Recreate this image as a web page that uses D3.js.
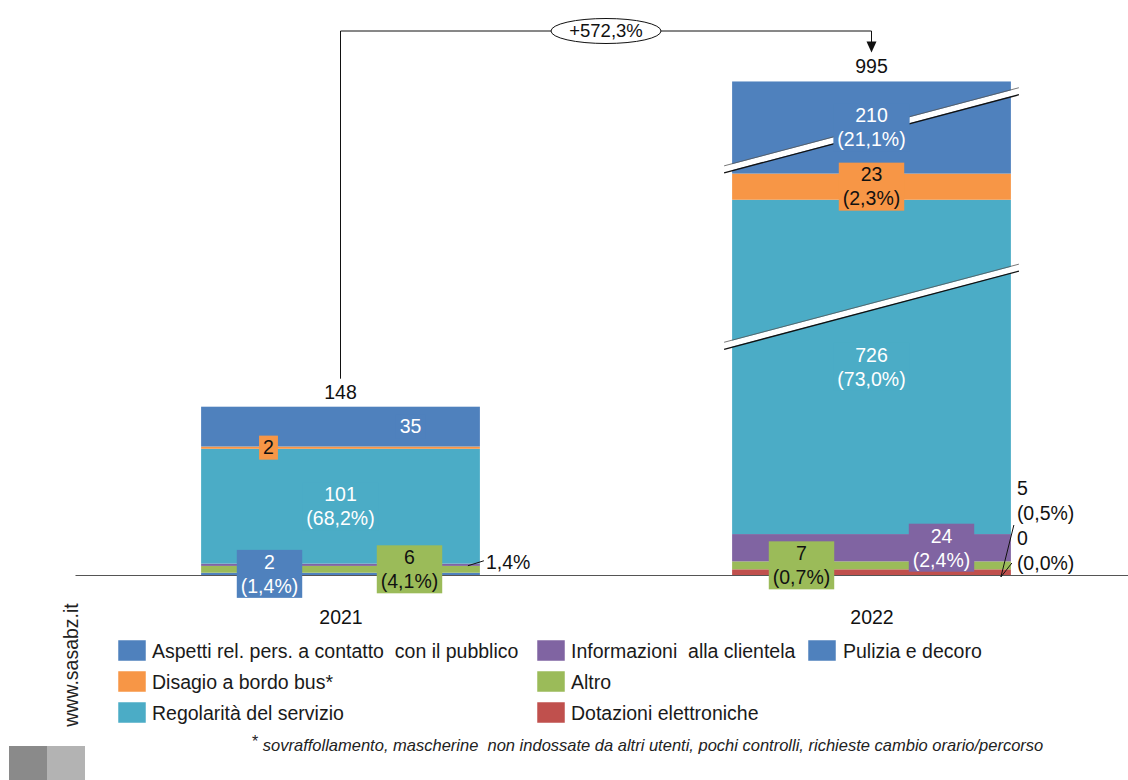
<!DOCTYPE html>
<html>
<head>
<meta charset="utf-8">
<script src="https://cdn.jsdelivr.net/npm/d3@7"></script>
<style>
  html, body { margin: 0; padding: 0; background: #fff; }
  svg { display: block; font-family: "Liberation Sans", Arial, sans-serif; }
</style>
</head>
<body>
<svg id="chart" width="1128" height="780"></svg>
<script>
// Complaint categories, listed in stacking order (bottom to top)
const categories = [
  "Pulizia e decoro",
  "Dotazioni elettroniche",
  "Altro",
  "Informazioni  alla clientela",
  "Regolarità del servizio",
  "Disagio a bordo bus*",
  "Aspetti rel. pers. a contatto  con il pubblico"
];
const years = ["2021", "2022"];
const values2021 = [2, 0, 6, 2, 101, 2, 35];
const values2022 = [0, 5, 7, 24, 726, 23, 210];
// amount removed from a segment by the broken value axis
const breakCut2021 = [0, 0, 0, 0, 0, 0, 0];
const breakCut2022 = [0, 0, 0, 0, 432, 0, 129];
const colors = ["#4F81BD", "#C0504D", "#9BBB59", "#8064A2", "#4BACC6", "#F79646", "#4F81BD"];
const legendOrder = [
  "Aspetti rel. pers. a contatto  con il pubblico", "Disagio a bordo bus*", "Regolarità del servizio",
  "Informazioni  alla clientela", "Altro", "Dotazioni elettroniche",
  "Pulizia e decoro"
];
const footnote = "sovraffollamento, mascherine  non indossate da altri utenti, pochi controlli, richieste cambio orario/percorso";
const source = "www.sasabz.it";

const series = [values2021, values2022];
const cuts = [breakCut2021, breakCut2022];
const totals = series.map(v => d3.sum(v));

// label placement per year and category: kind, horizontal offset, text colour
const labelSpec = [
  [ {kind: "both", dx: -71, c: "#fff"}, null, {kind: "both", dx: 69, c: "#111"},
    {kind: "callout"}, {kind: "both", dx: 0, c: "#fff"}, {kind: "value", dx: -72, c: "#111"},
    {kind: "value", dx: 70, c: "#fff"} ],
  [ {kind: "outside", slot: 1}, {kind: "outside", slot: 0}, {kind: "both", dx: -70, c: "#111"},
    {kind: "both", dx: 70, c: "#fff"}, {kind: "both", dx: 0, c: "#fff"}, {kind: "both", dx: 0, c: "#111"},
    {kind: "both", dx: 0, c: "#fff"} ]
];
// where the break band sits inside a broken segment (fraction of its drawn height)
const breakPos = [null, null, null, null, 0.68, null, 0.47];

const fmtPct = v => (Math.round(v * 1000) / 10).toFixed(1).replace(".", ",");

const svg = d3.select("#chart");
const baseY = 575;
const fs = 19.5;

const x = d3.scalePoint().domain(years).range([75, 1137]).padding(0.5);
const barW = x.step() * 0.525;
const y = d3.scaleLinear().domain([0, 148]).range([baseY, baseY - 168.3]);

// stacked layout with cuts applied
const stacks = series.map((vals, yi) => {
  let acc = 0;
  return vals.map((v, ci) => {
    const shown = v - cuts[yi][ci];
    const seg = {yi, ci, v, y0: acc, y1: acc + shown};
    acc += shown;
    return seg;
  });
});

const gBars = svg.append("g");
stacks.forEach((segs, yi) => {
  gBars.selectAll(null).data(segs.filter(s => s.v > 0)).join("rect")
    .attr("x", x(years[yi]) - barW / 2)
    .attr("width", barW)
    .attr("y", d => y(d.y1))
    .attr("height", d => y(d.y0) - y(d.y1))
    .attr("fill", d => colors[d.ci]);
});

// axis break bands
const gBreaks = svg.append("g");
stacks.forEach((segs, yi) => {
  segs.forEach(s => {
    if (cuts[yi][s.ci] > 0 && breakPos[s.ci] != null) {
      const cy = y(s.y0 + (s.y1 - s.y0) * breakPos[s.ci]);
      const cx = x(years[yi]);
      const half = barW / 2 + 8;
      const tilt = 0.265;
      const x0 = cx - half, x1 = cx + half;
      const yl = cy + half * tilt, yr = cy - half * tilt;
      gBreaks.append("path")
        .attr("d", `M${x0},${yl - 3}L${x1},${yr - 3}L${x1},${yr + 3}L${x0},${yl + 3}Z`)
        .attr("fill", "#fff");
      gBreaks.append("line").attr("x1", x0).attr("y1", yl + 3.5).attr("x2", x1).attr("y2", yr + 3.5)
        .attr("stroke", "#111").attr("stroke-width", 1.3);
      gBreaks.append("line").attr("x1", x0).attr("y1", yl - 3.5).attr("x2", x1).attr("y2", yr - 3.5)
        .attr("stroke", "#555").attr("stroke-width", 0.8);
    }
  });
});

// x axis
const axis = svg.append("g").attr("transform", `translate(0,${baseY})`)
  .call(d3.axisBottom(x).tickSize(0).tickPadding(35).tickSizeOuter(0));
axis.select(".domain").attr("stroke", "#555").attr("stroke-width", 1.2);
axis.selectAll("text").attr("font-size", fs).attr("fill", "#111")
  .attr("font-family", "'Liberation Sans', Arial, sans-serif");

// segment labels
const gLab = svg.append("g").attr("font-size", fs);
stacks.forEach((segs, yi) => {
  const cx = x(years[yi]);
  segs.forEach(s => {
    const spec = labelSpec[yi][s.ci];
    if (!spec) return;
    const pct = fmtPct(s.v / totals[yi]);
    const cy = y((s.y0 + s.y1) / 2);
    if (spec.kind === "both" || spec.kind === "value") {
      const lines = spec.kind === "both" ? [String(s.v), `(${pct}%)`] : [String(s.v)];
      const g = gLab.append("g").attr("transform", `translate(${cx + spec.dx},${cy})`);
      const rect = g.append("rect").attr("fill", colors[s.ci]);
      const t = g.append("text").attr("text-anchor", "middle").attr("fill", spec.c);
      lines.forEach((l, i) => {
        t.append("tspan").attr("x", 0).attr("y", (i - (lines.length - 1) / 2) * 24)
          .attr("dy", "0.35em").text(l);
      });
      const bb = t.node().getBBox();
      rect.attr("x", -bb.width / 2 - 4).attr("width", bb.width + 8)
        .attr("y", -lines.length * 12).attr("height", lines.length * 24);
    } else if (spec.kind === "callout") {
      const xr = cx + barW / 2;
      gLab.append("line").attr("x1", xr - 12).attr("y1", cy + 1).attr("x2", xr + 4).attr("y2", cy - 4)
        .attr("stroke", "#111").attr("stroke-width", 1);
      gLab.append("text").attr("x", xr + 6).attr("y", cy - 3).attr("dy", "0.35em")
        .attr("fill", "#111").text(`${pct}%`);
    } else if (spec.kind === "outside") {
      const xr = cx + barW / 2;
      const ty = baseY - 87 + spec.slot * 50;
      gLab.append("line")
        .attr("x1", xr - 10).attr("y1", baseY + 2)
        .attr("x2", xr + 3 - spec.slot * 2).attr("y2", ty + 37 - spec.slot * 12)
        .attr("stroke", "#111").attr("stroke-width", 1);
      const t = gLab.append("text").attr("fill", "#111");
      [String(s.v), `(${pct}%)`].forEach((l, i) => {
        t.append("tspan").attr("x", xr + 6).attr("y", ty + i * 25).attr("dy", "0.35em").text(l);
      });
    }
  });
});

// totals above bars
stacks.forEach((segs, yi) => {
  const top = segs[segs.length - 1].y1;
  svg.append("text").attr("x", x(years[yi])).attr("y", y(top) - 15).attr("dy", "0.35em")
    .attr("text-anchor", "middle").attr("font-size", fs).attr("fill", "#111").text(totals[yi]);
});

// growth connector between totals
const topA = y(stacks[0][6].y1) - 28;
const topB = y(stacks[1][6].y1) - 29;
const lineY = 31;
const xa = x(years[0]), xb = x(years[1]);
svg.append("path")
  .attr("d", `M${xa},${topA}V${lineY}H${xb}V${topB - 10}`)
  .attr("fill", "none").attr("stroke", "#111").attr("stroke-width", 1);
svg.append("path")
  .attr("d", `M${xb - 5},${topB - 11}L${xb + 5},${topB - 11}L${xb},${topB}Z`)
  .attr("fill", "#111");
const change = (totals[1] / totals[0] - 1) * 100;
const mid = (xa + xb) / 2;
svg.append("ellipse").attr("cx", mid).attr("cy", lineY).attr("rx", 55).attr("ry", 12.5)
  .attr("fill", "#fff").attr("stroke", "#111").attr("stroke-width", 1);
svg.append("text").attr("x", mid).attr("y", lineY).attr("dy", "0.35em").attr("text-anchor", "middle")
  .attr("font-size", 18.5).attr("fill", "#111").text(`+${change.toFixed(1).replace(".", ",")}%`);

// legend
const legCols = [[118, 152], [537, 571], [808, 843]];
const legG = svg.append("g").attr("font-size", fs).attr("fill", "#1a1a1a");
legendOrder.forEach((name, i) => {
  const col = Math.floor(i / 3), row = i % 3;
  const ci = categories.indexOf(name);
  const cy = 651 + row * 31;
  legG.append("rect").attr("x", legCols[col][0]).attr("y", cy - 11).attr("width", 28).attr("height", 21)
    .attr("fill", colors[ci]).attr("stroke", "#fff").attr("stroke-width", 0.5);
  legG.append("text").attr("x", legCols[col][1]).attr("y", cy).attr("dy", "0.35em")
    .attr("xml:space", "preserve").style("white-space", "pre").text(name);
});

// footnote
const fn = svg.append("text").attr("x", 252).attr("y", 751).attr("font-size", 16.5).attr("fill", "#222")
  .style("white-space", "pre");
fn.append("tspan").attr("font-size", 16).attr("dy", -4).text("*");
fn.append("tspan").attr("dy", 4).attr("font-style", "italic").text(" " + footnote);

// source, vertical
svg.append("text").attr("transform", "translate(78,665) rotate(-90)").attr("text-anchor", "middle")
  .attr("font-size", fs).attr("fill", "#222").text(source);

// corner blocks
svg.append("rect").attr("x", 9).attr("y", 746).attr("width", 38).attr("height", 34).attr("fill", "#8a8a8a");
svg.append("rect").attr("x", 47).attr("y", 746).attr("width", 38).attr("height", 34).attr("fill", "#b3b3b3");
</script>
</body>
</html>
